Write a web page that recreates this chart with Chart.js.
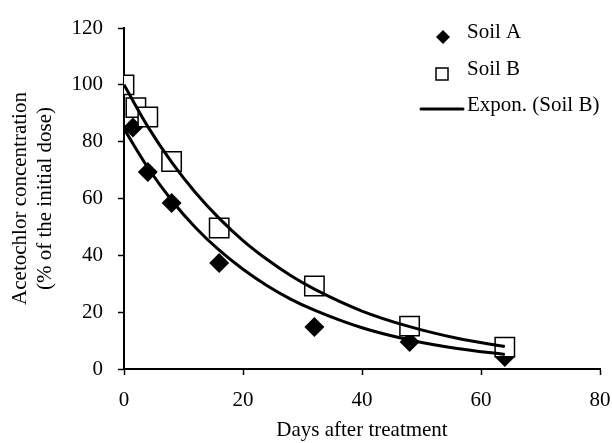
<!DOCTYPE html>
<html>
<head>
<meta charset="utf-8">
<script src="https://cdn.jsdelivr.net/npm/chart.js@4.4.1/dist/chart.umd.min.js"></script>
<style>
  html, body { margin: 0; padding: 0; background: #fff; }
  #wrap { width: 612px; height: 443px; }
</style>
</head>
<body>
<div id="wrap"><canvas id="chart" width="612" height="443"></canvas></div>
<script>
// measured points
const days = [0, 2, 4, 8, 16, 32, 48, 64];
const soilA = [null, 85, 69.3, 58.4, 37.3, 14.8, 9.5, 4.2];
const soilADays = [0, 1.5, 4, 8, 16, 32, 48, 64];
const soilB = [100, 92, 88.7, 73, 49.6, 29.2, 15.1, 7.7];

// trend lines
const curveDays = [0, 4, 8, 12, 16, 20, 24, 28, 32, 40, 48, 56, 64];
const curveA = [84.5, 70.9, 59.4, 49.8, 41.8, 35.1, 29.4, 24.6, 20.7, 14.5, 10.2, 7.2, 5.1];
const curveB = [100, 85.3, 72.8, 62.1, 53.0, 45.2, 38.6, 32.9, 28.1, 20.4, 14.9, 10.8, 7.9];

const xTicks = [0, 20, 40, 60, 80];
const yTicks = [0, 20, 40, 60, 80, 100, 120];

const FONT = "'Liberation Serif', 'DejaVu Serif', serif";
const FSIZE = 21;

function pairs(xs, ys) {
	return xs.map((x, i) => ({x: x, y: ys[i]})).filter(p => p.y !== null);
}

const legendPlugin = {
	id: 'sideLegend',
	afterDraw(chart) {
		const c = chart.ctx;
		c.save();
		c.fillStyle = '#000';
		c.strokeStyle = '#000';
		c.font = FSIZE + 'px ' + FONT;
		c.textBaseline = 'middle';
		c.textAlign = 'left';
		// Soil A
		c.beginPath();
		c.moveTo(443 - 7, 37);
		c.lineTo(443, 37 - 7);
		c.lineTo(443 + 7, 37);
		c.lineTo(443, 37 + 7);
		c.closePath();
		c.fill();
		c.fillText('Soil A', 467, 32);
		// Soil B
		c.lineWidth = 1.5;
		c.strokeRect(436, 68, 12, 12);
		c.fillText('Soil B', 467, 69);
		// Expon
		c.lineWidth = 3;
		c.lineCap = 'round';
		c.beginPath();
		c.moveTo(421, 109);
		c.lineTo(463, 109);
		c.stroke();
		c.fillText('Expon. (Soil B)', 467, 105);
		c.restore();
	}
};

function axisOpts(min, max, step, ticks, pad) {
	return {
		type: 'linear',
		min: min,
		max: max,
		afterBuildTicks: s => { s.ticks = ticks.map(v => ({value: v})); },
		ticks: {
			stepSize: step,
			color: '#000',
			font: {family: FONT, size: FSIZE},
			padding: pad
		},
		grid: {
			display: true,
			drawOnChartArea: false,
			drawTicks: true,
			tickLength: 6,
			tickWidth: 1.5,
			tickColor: '#000'
		},
		border: {display: true, color: '#000', width: 2}
	};
}

const xOpts = axisOpts(0, 80, 20, xTicks, 13);
xOpts.title = {display: true, text: 'Days after treatment', color: '#000', font: {family: FONT, size: FSIZE}, padding: {top: 7, bottom: 0}};
xOpts.afterFit = s => { s.height = 74; s.paddingLeft = 0; s.paddingRight = 0; };

const yOpts = axisOpts(0, 120, 20, yTicks, 15);
yOpts.title = {display: true, text: ['Acetochlor concentration', '(% of the initial dose)'], color: '#000', font: {family: FONT, size: FSIZE, lineHeight: 1.2}, padding: {top: 8, bottom: 0}};
yOpts.afterFit = s => { s.width = 124; s.paddingTop = 0; s.paddingBottom = 0; };

new Chart(document.getElementById('chart').getContext('2d'), {
	type: 'scatter',
	data: {
		datasets: [
			{
				label: 'Soil A',
				data: pairs(soilADays, soilA),
				pointStyle: 'rectRot',
				pointRadius: 10,
				backgroundColor: '#000',
				borderColor: '#000',
				borderWidth: 0,
				order: 4
			},
			{
				label: 'Soil B',
				data: pairs(days, soilB),
				pointStyle: 'rect',
				pointRadius: 13.7,
				backgroundColor: '#fff',
				borderColor: '#000',
				borderWidth: 1.5,
				order: 3
			},
			{
				label: 'Expon. (Soil A)',
				data: pairs(curveDays, curveA),
				showLine: true,
				pointRadius: 0,
				borderColor: '#000',
				borderWidth: 3,
				cubicInterpolationMode: 'monotone',
				order: 2
			},
			{
				label: 'Expon. (Soil B)',
				data: pairs(curveDays, curveB),
				showLine: true,
				pointRadius: 0,
				borderColor: '#000',
				borderWidth: 3,
				cubicInterpolationMode: 'monotone',
				order: 1
			}
		]
	},
	options: {
		responsive: false,
		animation: false,
		devicePixelRatio: 1,
		layout: {autoPadding: false, padding: {left: 0, right: 12, top: 28, bottom: 0}},
		plugins: {
			legend: {display: false},
			tooltip: {enabled: false}
		},
		scales: {x: xOpts, y: yOpts}
	},
	plugins: [legendPlugin]
});
</script>
</body>
</html>
